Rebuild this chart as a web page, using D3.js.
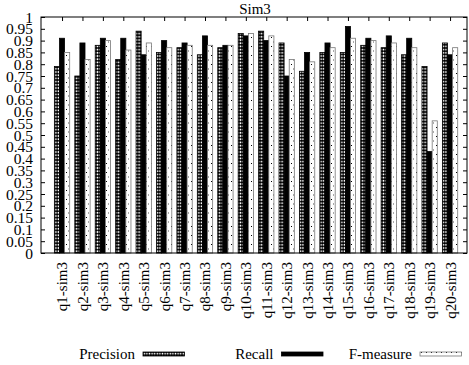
<!DOCTYPE html>
<html>
<head>
<meta charset="utf-8">
<script src="https://cdn.jsdelivr.net/npm/d3@7"></script>
<style>
  body { margin: 0; background: #fff; }
  text { font-family: "Liberation Serif", "Times New Roman", serif; fill: #000; }
</style>
</head>
<body>
<svg id="chart" width="469" height="365"></svg>
<script>
// values
var queries = ['q1-sim3','q2-sim3','q3-sim3','q4-sim3','q5-sim3','q6-sim3','q7-sim3','q8-sim3','q9-sim3','q10-sim3',
               'q11-sim3','q12-sim3','q13-sim3','q14-sim3','q15-sim3','q16-sim3','q17-sim3','q18-sim3','q19-sim3','q20-sim3'];
var precision = [0.79,0.75,0.88,0.82,0.94,0.85,0.87,0.84,0.87,0.93,0.94,0.89,0.77,0.85,0.85,0.88,0.87,0.84,0.79,0.89];
var recall    = [0.91,0.89,0.91,0.91,0.84,0.90,0.89,0.92,0.88,0.92,0.90,0.75,0.85,0.89,0.96,0.91,0.92,0.91,0.43,0.84];
var fmeasure  = [0.85,0.82,0.90,0.86,0.89,0.87,0.88,0.88,0.88,0.93,0.92,0.82,0.81,0.87,0.91,0.90,0.89,0.87,0.56,0.87];
var seriesNames = ['Precision','Recall','F-measure'];
var yTicks = d3.range(0, 21).map(function(i){ return +(i*0.05).toFixed(2); });

var svg = d3.select('#chart');
var plotL = 41, plotR = 467, plotT = 17, plotB = 253;

var x = d3.scaleLinear().domain([-1.03, 19.83]).range([plotL, plotR]);
var y = d3.scaleLinear().domain([0, 1]).range([plotB, plotT]);
var bw = x(0.25) - x(0);

// fill patterns (gnuplot style)
var defs = svg.append('defs');
var pp = defs.append('pattern').attr('id','pPrec').attr('patternUnits','userSpaceOnUse')
  .attr('width', 2.6).attr('height', 3.2);
pp.append('rect').attr('width', 2.6).attr('height', 3.2).attr('fill', '#000');
pp.append('ellipse').attr('cx', 1.3).attr('cy', 1.6).attr('rx', 0.8).attr('ry', 1).attr('fill', '#fff');

var pf = defs.append('pattern').attr('id','pF').attr('patternUnits','userSpaceOnUse')
  .attr('width', 5).attr('height', 9);
pf.append('rect').attr('width', 5).attr('height', 9).attr('fill', '#fff');
pf.append('rect').attr('x', 1).attr('y', 1).attr('width', 1).attr('height', 1).attr('fill', '#000');
pf.append('rect').attr('x', 3).attr('y', 5.5).attr('width', 1).attr('height', 1).attr('fill', '#555');

var styles = [
  { fill: 'url(#pPrec)', stroke: '#000' },
  { fill: '#000', stroke: '#000' },
  { fill: 'url(#pF)', stroke: '#777' }
];
var allSeries = [precision, recall, fmeasure];

// bars
allSeries.forEach(function(vals, s) {
  svg.append('g').selectAll('rect').data(vals).enter().append('rect')
    .attr('x', function(d, i){ return x(i + (s - 1.5) * 0.25); })
    .attr('y', function(d){ return y(d); })
    .attr('width', bw)
    .attr('height', function(d){ return y(0) - y(d); })
    .attr('fill', styles[s].fill)
    .attr('stroke', styles[s].stroke)
    .attr('stroke-width', 0.8);
});

// frame
svg.append('rect').attr('x', plotL).attr('y', plotT).attr('width', plotR - plotL).attr('height', plotB - plotT)
  .attr('fill', 'none').attr('stroke', '#000').attr('stroke-width', 1);

// y axis left + mirrored right
var yAxis = d3.axisLeft(y).tickValues(yTicks).tickSize(-4).tickPadding(8)
  .tickFormat(function(d){ return d3.format('')(d); });
var gy = svg.append('g').attr('transform', 'translate(' + plotL + ',0)').call(yAxis);
gy.select('.domain').remove();
gy.selectAll('text').attr('font-size', 15.5).attr('font-family', 'Liberation Serif').attr('dy', '0.33em');
gy.selectAll('line').attr('stroke', '#000');

var gyr = svg.append('g').attr('transform', 'translate(' + plotR + ',0)')
  .call(d3.axisRight(y).tickValues(yTicks).tickSize(-4).tickFormat(''));
gyr.select('.domain').remove();

// x axis ticks top and bottom
var idx = d3.range(queries.length);
var gxb = svg.append('g').attr('transform', 'translate(0,' + plotB + ')')
  .call(d3.axisBottom(x).tickValues(idx).tickSize(-4).tickPadding(9).tickFormat(function(i){ return queries[i]; }));
gxb.select('.domain').remove();
gxb.selectAll('text')
  .attr('font-size', 15).attr('font-family', 'Liberation Serif')
  .attr('transform', 'rotate(-90)')
  .attr('text-anchor', 'end')
  .attr('x', -9).attr('y', 0).attr('dy', '0.33em');
var gxt = svg.append('g').attr('transform', 'translate(0,' + plotT + ')')
  .call(d3.axisTop(x).tickValues(idx).tickSize(-4).tickFormat(''));
gxt.select('.domain').remove();

// title
svg.append('text').attr('x', 255).attr('y', 14).attr('text-anchor', 'middle')
  .attr('font-size', 15).text('Sim3');

// legend
var legX = [143, 281.5, 420];
var leg = svg.append('g').selectAll('g').data(seriesNames).enter().append('g');
leg.append('text').attr('x', function(d, i){ return legX[i] - 8; }).attr('y', 359)
  .attr('text-anchor', 'end').attr('font-size', 15).text(function(d){ return d; });
leg.append('rect').attr('x', function(d, i){ return legX[i]; }).attr('y', 352)
  .attr('width', 41.5).attr('height', 4)
  .attr('fill', function(d, i){ return styles[i].fill; })
  .attr('stroke', function(d, i){ return styles[i].stroke; })
  .attr('stroke-width', 0.8);
</script>
</body>
</html>
